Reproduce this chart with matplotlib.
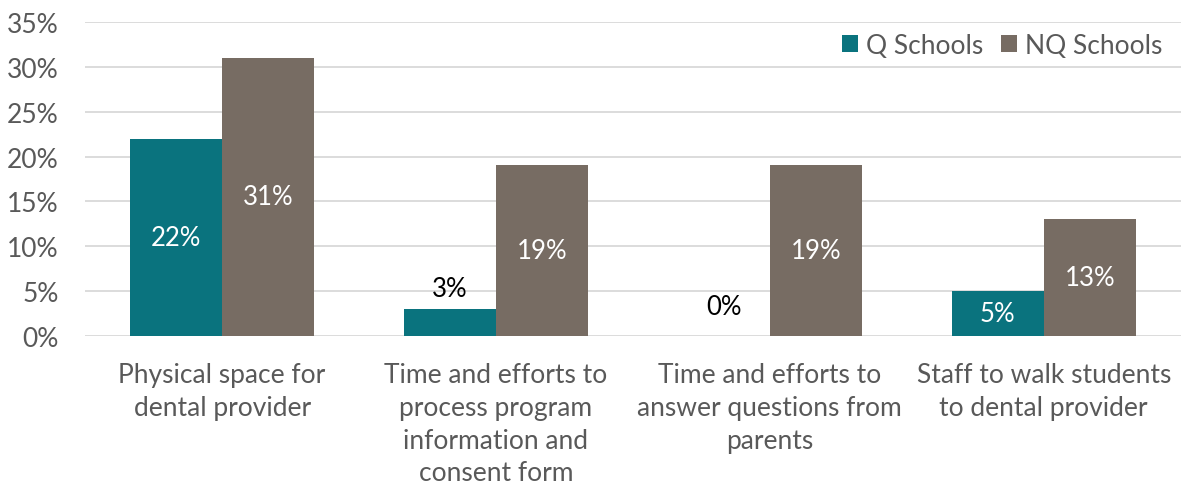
import matplotlib.pyplot as plt
import numpy as np

categories = [
    "Physical space for\ndental provider",
    "Time and efforts to\nprocess program\ninformation and\nconsent form",
    "Time and efforts to\nanswer questions from\nparents",
    "Staff to walk students\nto dental provider",
]
q_schools = [22, 3, 0, 5]
nq_schools = [31, 19, 19, 13]
y_ticks = [0, 5, 10, 15, 20, 25, 30, 35]

teal = "#0A737E"
gray = "#776C63"
text_col = "#595959"

plt.rcParams["font.family"] = ["Lato", "DejaVu Sans"]

fig = plt.figure(figsize=(11.83, 4.89), dpi=100)
ax = fig.add_axes([0.072, 0.311, 0.926, 0.642])

x = np.arange(len(categories))
w = 0.336
b1 = ax.bar(x - w / 2, q_schools, w, color=teal, label="Q Schools", zorder=3)
b2 = ax.bar(x + w / 2, nq_schools, w, color=gray, label="NQ Schools", zorder=3)

# data labels: inside in white, small values above the bar in black
for bars, vals in [(b1, q_schools), (b2, nq_schools)]:
    for rect, v in zip(bars, vals):
        cx = rect.get_x() + rect.get_width() / 2
        if v >= 5:
            ax.text(cx, v / 2, f"{v}%", ha="center", va="center",
                    color="white", fontsize=18.5, zorder=4)
        else:
            off = 6 if v > 0 else 12
            ax.annotate(f"{v}%", (cx, v), xytext=(0, off), textcoords="offset points",
                        ha="center", va="bottom", color="black", fontsize=18.5, zorder=4)

ax.set_ylim(0, 35)
ax.set_xlim(-0.5, len(categories) - 0.5)
ax.set_yticks(y_ticks)
ax.set_yticklabels([f"{t}%" for t in y_ticks])
ax.set_xticks(x)
ax.set_xticklabels(categories, linespacing=1.38)
ax.tick_params(axis="both", length=0, labelsize=19, labelcolor=text_col)
ax.tick_params(axis="x", pad=19)
ax.tick_params(axis="y", pad=19)
ax.grid(axis="y", color="#D9D9D9", linewidth=1.3, zorder=0)
for s in ax.spines.values():
    s.set_visible(False)

leg = ax.legend(loc="upper right", ncol=2, frameon=False, fontsize=19,
                handlelength=0.6, handleheight=0.6, handletextpad=0.3,
                columnspacing=0.7, bbox_to_anchor=(1.005, 1.04))
for t in leg.get_texts():
    t.set_color(text_col)

fig.savefig("out.png", dpi=100)
